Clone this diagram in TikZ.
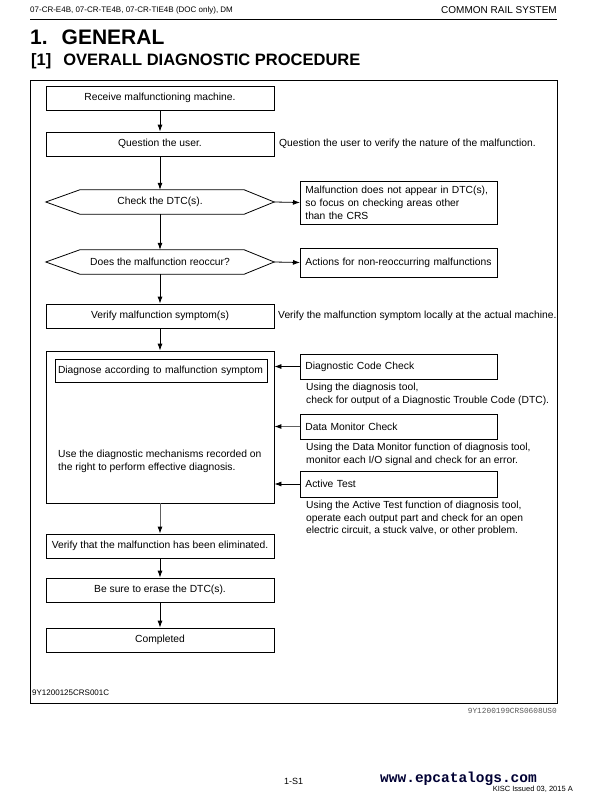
\documentclass[tikz,border=0pt]{standalone}
\usepackage{fontspec}
\setmainfont{Liberation Sans}
\setmonofont{Liberation Mono}
\usetikzlibrary{arrows.meta}
\begin{document}
\begin{tikzpicture}[x=1pt,y=-1pt,
  every node/.style={font=\fontsize{10.3}{12.6}\selectfont, inner sep=0pt},
  flowbox/.style={draw, line width=0.8pt, minimum width=228pt, minimum height=24pt},
  hexbox/.style={minimum width=228pt, minimum height=24pt},
  sidebox/.style={draw, line width=0.8pt, anchor=west, minimum width=197pt, minimum height=25pt, text width=187pt, align=left, inner xsep=5pt},
  note/.style={anchor=north west, align=left},
  sidenote/.style={anchor=west},
  arr/.style={-{Latex[length=7pt,width=5pt]}, line width=0.8pt},
  garr/.style={-{Latex[length=7pt,width=5pt,color=black]}, line width=0.9pt, draw=gray!75!black},
  hexline/.style={line width=0.8pt}]
\useasboundingbox (0,0) rectangle (592,800);

% header
\node[anchor=west, font=\fontsize{8}{9}\selectfont] (hdl) at (30,10) {07-CR-E4B, 07-CR-TE4B, 07-CR-TIE4B (DOC only), DM};
\node[anchor=east, font=\fontsize{10}{12}\selectfont] (hdr) at (557,10) {COMMON RAIL SYSTEM};
\draw[line width=0.9pt] (30,19.5) -- (557,19.5);
\node[anchor=west, font=\fontsize{21}{24}\selectfont\bfseries] (t1) at (30,37) {1.\hspace{14pt}GENERAL};
\node[anchor=west, font=\fontsize{16.5}{20}\selectfont\bfseries] (t2) at (31,61) {[1]\hspace{12pt}OVERALL DIAGNOSTIC PROCEDURE};

% frame
\draw[line width=0.9pt] (30,80) rectangle (557,703);

% main flow
\node[flowbox] (recv) at (160,98) {Receive malfunctioning machine.};
\node[flowbox] (quest) at (160,144) {Question the user.};
\node[hexbox] (h1) at (160,202) {Check the DTC(s).};
\draw[hexline] (h1.west) -- ([xshift=34pt]h1.north west) -- ([xshift=-30pt]h1.north east) -- (h1.east) -- ([xshift=-30pt]h1.south east) -- ([xshift=34pt]h1.south west) -- cycle;
\node[hexbox] (h2) at (160,262) {Does the malfunction reoccur?};
\draw[hexline] (h2.west) -- ([xshift=34pt]h2.north west) -- ([xshift=-30pt]h2.north east) -- (h2.east) -- ([xshift=-30pt]h2.south east) -- ([xshift=34pt]h2.south west) -- cycle;
\node[flowbox] (vsym) at (160,316) {Verify malfunction symptom(s)};
\node[flowbox, minimum height=152pt] (big) at (160,427) {};
\node[draw, line width=0.8pt, minimum width=212pt, minimum height=23pt, text width=206pt, align=left, inner xsep=3pt] (inner) at (161,371) {Diagnose according to malfunction symptom};
\node[note] (bigtext) at (58,450) {Use the diagnostic mechanisms recorded on\\the right to perform effective diagnosis.};
\node[flowbox] (velim) at (160,546) {Verify that the malfunction has been eliminated.};
\node[flowbox] (erase) at (160,590) {Be sure to erase the DTC(s).};
\node[flowbox] (done) at (160,640) {Completed};

% side notes
\node[sidenote] (qnote) at (279,144) {Question the user to verify the nature of the malfunction.};
\node[sidenote] (vnote) at (278,316) {Verify the malfunction symptom locally at the actual machine.};
\node[sidebox, minimum height=43pt, font=\fontsize{10.3}{12.9}\selectfont] (mal) at (300,202.5) {Malfunction does not appear in DTC(s),\\so focus on checking areas other\\than the CRS};
\node[sidebox, minimum height=29pt] (act) at (300,262.5) {Actions for non-reoccurring malfunctions};

\node[sidebox] (dcc) at (300,366.5) {Diagnostic Code Check};
\node[note] (dccn) at (306,383) {Using the diagnosis tool,\\check for output of a Diagnostic Trouble Code (DTC).};
\node[sidebox] (dmc) at (300,426.5) {Data Monitor Check};
\node[note] (dmcn) at (306,443) {Using the Data Monitor function of diagnosis tool,\\monitor each I/O signal and check for an error.};
\node[sidebox, minimum height=26pt] (atest) at (300,484) {Active Test};
\node[note] (atn) at (306,501) {Using the Active Test function of diagnosis tool,\\operate each output part and check for an open\\electric circuit, a stuck valve, or other problem.};

% connectors
\draw[arr] (recv) -- (quest);
\draw[arr] (quest) -- (h1.north);
\draw[arr] (h1.south) -- (h2.north);
\draw[arr] (h2.south) -- (vsym);
\draw[arr] (vsym) -- (big);
\draw[garr] (big) -- (velim);
\draw[arr] (velim) -- (erase);
\draw[arr] (erase) -- (done);
\draw[arr] (h1.east) -- (mal.west);
\draw[arr] (h2.east) -- (act.west);
\draw[arr] (dcc.west) -- (dcc.west -| big.east);
\draw[garr] (dmc.west) -- (dmc.west -| big.east);
\draw[arr] (atest.west) -- (atest.west -| big.east);

% footers
\node[anchor=west, font=\fontsize{8}{9}\selectfont] (code1) at (32,693) {9Y1200125CRS001C};
\node[anchor=east, font=\ttfamily\fontsize{7.8}{9}\selectfont, text=gray!70!black] (code2) at (557,711) {9Y1200199CRS0608US0};
\node[anchor=west, font=\fontsize{9}{10}\selectfont] (page) at (284,781) {1-S1};
\node[anchor=west, font=\ttfamily\bfseries\fontsize{14.5}{16}\selectfont, text=black!80!blue] (www) at (380,779) {www.epcatalogs.com};
\node[anchor=east, font=\fontsize{7.5}{9}\selectfont] (kisc) at (573,789) {KISC Issued 03, 2015 A};
\end{tikzpicture}
\end{document}
